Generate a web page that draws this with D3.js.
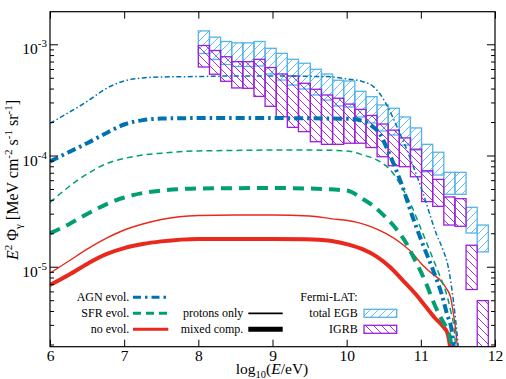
<!DOCTYPE html>
<html>
<head>
<meta charset="utf-8">
<script src="https://cdn.jsdelivr.net/npm/d3@7"></script>
<style>
  body { margin: 0; background: #fff; }
  svg text { font-family: "Liberation Serif", "Times New Roman", serif; fill: #000; }
</style>
</head>
<body>
<div id="chart"></div>
<script>
// gamma-ray cascade fluxes, E^2 Phi in MeV cm^-2 s^-1 sr^-1, x = log10(E/eV)

// AGN evolution
var agnP_logE = [6.0, 6.25, 6.5, 6.75, 7.0, 7.25, 7.5, 8.0, 8.5, 9.0, 9.5, 9.75, 10.0, 10.22, 10.36, 10.45, 10.54, 10.63, 10.72, 10.79, 10.9, 11.03, 11.21, 11.3, 11.37, 11.42, 11.46, 11.5, 11.52];
var agnP_flux = [1.95e-4, 2.43e-4, 3.06e-4, 3.97e-4, 4.68e-4, 4.98e-4, 5.08e-4, 5.13e-4, 5.19e-4, 5.19e-4, 5.15e-4, 5.12e-4, 4.88e-4, 4.61e-4, 4.16e-4, 3.57e-4, 2.85e-4, 2.15e-4, 1.56e-4, 1.22e-4, 7.93e-5, 4.57e-5, 1.97e-5, 1.41e-5, 9.93e-6, 6.17e-6, 3.76e-6, 2.06e-6, 1.4e-6];
var agnM_logE = [6.0, 6.25, 6.5, 6.75, 7.0, 7.25, 7.5, 8.0, 9.0, 9.5, 10.0, 10.2, 10.36, 10.45, 10.54, 10.64, 10.74, 10.88, 11.03, 11.17, 11.28, 11.35, 11.42, 11.46];
var agnM_flux = [8.83e-5, 1.07e-4, 1.29e-4, 1.58e-4, 1.90e-4, 2.08e-4, 2.15e-4, 2.17e-4, 2.17e-4, 2.16e-4, 2.14e-4, 2.06e-4, 1.80e-4, 1.56e-4, 1.17e-4, 8.22e-5, 5.55e-5, 2.92e-5, 1.57e-5, 9.13e-6, 5.68e-6, 3.81e-6, 2.59e-6, 1.5e-6];

// SFR evolution
var sfrP_logE = [6.0, 6.25, 6.5, 6.75, 7.0, 7.25, 7.5, 8.0, 8.5, 9.0, 9.5, 10.0, 10.22, 10.45, 10.61, 10.74, 10.88, 10.99, 11.1, 11.19, 11.26, 11.33, 11.4, 11.45, 11.48];
var sfrP_flux = [3.78e-5, 5.21e-5, 6.82e-5, 8.39e-5, 9.40e-5, 1.01e-4, 1.05e-4, 1.10e-4, 1.11e-4, 1.12e-4, 1.12e-4, 1.10e-4, 1.01e-4, 8.79e-5, 7.14e-5, 5.24e-5, 3.46e-5, 2.29e-5, 1.51e-5, 1.07e-5, 8.13e-6, 6.17e-6, 4.08e-6, 2.70e-6, 1.5e-6];
var sfrM_logE = [6.0, 6.25, 6.5, 6.75, 7.0, 7.25, 7.5, 8.0, 9.0, 9.5, 10.0, 10.22, 10.36, 10.49, 10.67, 10.81, 10.9, 10.99, 11.08, 11.17, 11.26, 11.35, 11.4, 11.43];
var sfrM_flux = [2.0e-5, 2.40e-5, 2.98e-5, 3.62e-5, 4.19e-5, 4.60e-5, 4.84e-5, 5.05e-5, 5.10e-5, 5.05e-5, 4.84e-5, 4.06e-5, 3.52e-5, 2.94e-5, 2.18e-5, 1.60e-5, 1.22e-5, 9.33e-6, 6.84e-6, 4.82e-6, 3.57e-6, 2.75e-6, 2.19e-6, 1.5e-6];

// no evolution
var noP_logE = [6.0, 6.25, 6.5, 6.75, 7.0, 7.25, 7.5, 8.0, 8.5, 9.0, 9.5, 9.78, 10.13, 10.36, 10.54, 10.72, 10.88, 11.01, 11.15, 11.26, 11.34, 11.4, 11.44, 11.47, 11.49, 11.51];
var noP_flux = [8.77e-6, 1.12e-5, 1.44e-5, 1.79e-5, 2.14e-5, 2.42e-5, 2.66e-5, 2.89e-5, 2.92e-5, 2.92e-5, 2.86e-5, 2.71e-5, 2.52e-5, 2.25e-5, 1.97e-5, 1.65e-5, 1.34e-5, 1.06e-5, 8.69e-6, 7.59e-6, 6.44e-6, 5.35e-6, 3.76e-6, 2.69e-6, 1.98e-6, 1.5e-6];
var noM_logE = [6.0, 6.25, 6.5, 6.75, 7.0, 7.25, 7.5, 8.0, 9.0, 9.45, 9.78, 10.04, 10.22, 10.4, 10.58, 10.76, 10.92, 11.06, 11.19, 11.3, 11.36, 11.39, 11.41];
var noM_flux = [6.84e-6, 8.41e-6, 1.06e-5, 1.29e-5, 1.47e-5, 1.60e-5, 1.69e-5, 1.78e-5, 1.78e-5, 1.77e-5, 1.71e-5, 1.57e-5, 1.43e-5, 1.24e-5, 1.0e-5, 7.51e-6, 5.77e-6, 4.43e-6, 3.46e-6, 2.90e-6, 2.52e-6, 1.98e-6, 1.5e-6];

// Fermi-LAT energy bins (log10 E/eV edges)
var fermiEdges = [8.00, 8.15, 8.30, 8.45, 8.60, 8.75, 8.90, 9.05, 9.20, 9.35, 9.51, 9.66, 9.81, 9.96, 10.11, 10.26, 10.41, 10.56, 10.71, 10.86, 11.01, 11.16, 11.31, 11.46, 11.61, 11.76, 11.91];
// total EGB band (high / low)
var egbHigh = [1.32e-3, 1.16e-3, 1.06e-3, 1.03e-3, 1.03e-3, 1.06e-3, 9.20e-4, 8.29e-4, 7.33e-4, 6.75e-4, 5.96e-4, 5.41e-4, 4.75e-4, 4.68e-4, 3.78e-4, 3.38e-4, 2.85e-4, 2.66e-4, 2.22e-4, 1.77e-4, 1.26e-4, 1.07e-4, 7.06e-5, 7.06e-5, 3.42e-5, 2.37e-5];
var egbLow = [8.26e-4, 7.30e-4, 6.58e-4, 6.31e-4, 6.31e-4, 6.38e-4, 5.41e-4, 4.77e-4, 4.30e-4, 3.96e-4, 3.50e-4, 3.15e-4, 2.79e-4, 2.73e-4, 2.22e-4, 1.96e-4, 1.66e-4, 1.53e-4, 1.24e-4, 1.12e-4, 7.14e-5, 6.68e-5, 4.48e-5, 4.48e-5, 2.01e-5, 1.36e-5];
// IGRB band (high / low)
var igrbHigh = [9.75e-4, 8.79e-4, 7.73e-4, 6.98e-4, 6.98e-4, 7.33e-4, 6.18e-4, 5.41e-4, 5.19e-4, 4.46e-4, 3.94e-4, 3.50e-4, 3.27e-4, 2.90e-4, 2.60e-4, 2.29e-4, 1.92e-4, 1.69e-4, 1.44e-4, 1.14e-4, 7.30e-5, 6.10e-5, 4.24e-5, 4.09e-5, 1.56e-5, 4.96e-6];
var igrbLow = [6.25e-4, 5.38e-4, 4.65e-4, 4.05e-4, 4.02e-4, 3.40e-4, 2.77e-4, 2.23e-4, 1.79e-4, 1.64e-4, 1.33e-4, 1.26e-4, 1.26e-4, 1.29e-4, 1.29e-4, 1.18e-4, 9.75e-5, 8.09e-5, 7.93e-5, 6.44e-5, 3.85e-5, 3.49e-5, 2.37e-5, 2.31e-5, 6.24e-6, 1.0e-6];

var xTicks = [6, 7, 8, 9, 10, 11, 12];
var yMajor = [1e-5, 1e-4, 1e-3];
var yMajorExp = ["-5", "-4", "-3"];

var blue = "#0072b2", green = "#009e73", red = "#e8291c";
var egbColor = "#56b4e9", igrbColor = "#9a1fdc";

var width = 506, height = 379;
var pLeft = 50, pRight = 495, pTop = 11.7, pBottom = 346.7;

var svg = d3.select("#chart").append("svg")
  .attr("width", width)
  .attr("height", height)
  .attr("font-family", "Liberation Serif, serif");

var x = d3.scaleLinear().domain([6, 12]).range([pLeft, pRight]);
var y = d3.scaleLog().domain([Math.pow(10, -5.719), Math.pow(10, -2.707)]).range([pBottom, pTop]);

var defs = svg.append("defs");
defs.append("clipPath").attr("id", "plotClip")
  .append("rect")
  .attr("x", pLeft).attr("y", pTop)
  .attr("width", pRight - pLeft).attr("height", pBottom - pTop);

// hatch patterns
defs.append("pattern").attr("id", "hatchEGB")
  .attr("patternUnits", "userSpaceOnUse").attr("width", 8).attr("height", 8)
  .append("path")
  .attr("d", "M-2,2 L2,-2 M0,8 L8,0 M6,10 L10,6")
  .attr("stroke", egbColor).attr("stroke-width", 0.9);
defs.append("pattern").attr("id", "hatchIGRB")
  .attr("patternUnits", "userSpaceOnUse").attr("width", 8).attr("height", 8)
  .append("path")
  .attr("d", "M-2,6 L2,10 M0,0 L8,8 M6,-2 L10,2")
  .attr("stroke", igrbColor).attr("stroke-width", 0.9);

var plot = svg.append("g").attr("clip-path", "url(#plotClip)");

// Fermi boxes
function drawBoxes(high, low, fillId, color) {
  var bins = high.map(function (h, i) {
    return { x0: fermiEdges[i], x1: fermiEdges[i + 1], hi: h, lo: low[i] };
  });
  plot.append("g").selectAll("rect")
    .data(bins)
    .enter()
    .append("rect")
    .attr("x", function (d) { return x(d.x0); })
    .attr("width", function (d) { return x(d.x1) - x(d.x0); })
    .attr("y", function (d) { return y(d.hi); })
    .attr("height", function (d) { return y(d.lo) - y(d.hi); })
    .attr("fill", "url(#" + fillId + ")")
    .attr("stroke", color)
    .attr("stroke-width", 1.3);
}
drawBoxes(egbHigh, egbLow, "hatchEGB", egbColor);
drawBoxes(igrbHigh, igrbLow, "hatchIGRB", igrbColor);

// curves
var line = d3.line()
  .x(function (d) { return x(d[0]); })
  .y(function (d) { return y(d[1]); })
  .curve(d3.curveMonotoneX);

var curves = [
  { e: noM_logE, f: noM_flux, color: red, w: 4, dash: null },
  { e: noP_logE, f: noP_flux, color: red, w: 1.4, dash: null },
  { e: sfrM_logE, f: sfrM_flux, color: green, w: 4, dash: "11,7" },
  { e: sfrP_logE, f: sfrP_flux, color: green, w: 1.5, dash: "6,4" },
  { e: agnM_logE, f: agnM_flux, color: blue, w: 4, dash: "9,4,2.5,4" },
  { e: agnP_logE, f: agnP_flux, color: blue, w: 1.5, dash: "5,2.5,1.5,2.5" }
];

curves.forEach(function (c) {
  var pts = c.e.map(function (v, i) { return [v, c.f[i]]; });
  plot.append("path")
    .datum(pts)
    .attr("fill", "none")
    .attr("stroke", c.color)
    .attr("stroke-width", c.w)
    .attr("stroke-dasharray", c.dash)
    .attr("d", line);
});

// axes (ticks point inward)
var yMinor = [];
for (var p = -6; p <= -3; p++) {
  for (var m = 2; m <= 9; m++) {
    var v = m * Math.pow(10, p);
    if (v > y.domain()[0] && v < y.domain()[1]) yMinor.push(v);
  }
}

function styleAxis(g) {
  g.select(".domain").remove();
  g.selectAll(".tick line").attr("stroke", "#000").attr("stroke-width", 1);
}

svg.append("g").attr("transform", "translate(" + pLeft + ",0)")
  .call(d3.axisLeft(y).tickValues(yMajor).tickSize(-8).tickFormat(""))
  .call(styleAxis);
svg.append("g").attr("transform", "translate(" + pLeft + ",0)")
  .call(d3.axisLeft(y).tickValues(yMinor).tickSize(-4).tickFormat(""))
  .call(styleAxis);
svg.append("g").attr("transform", "translate(" + pRight + ",0)")
  .call(d3.axisRight(y).tickValues(yMajor).tickSize(-8).tickFormat(""))
  .call(styleAxis);
svg.append("g").attr("transform", "translate(" + pRight + ",0)")
  .call(d3.axisRight(y).tickValues(yMinor).tickSize(-4).tickFormat(""))
  .call(styleAxis);

var xAxis = svg.append("g").attr("transform", "translate(0," + pBottom + ")")
  .call(d3.axisBottom(x).tickValues(xTicks).tickSize(-7).tickPadding(3).tickFormat(d3.format("d")))
  .call(styleAxis);
xAxis.selectAll(".tick text")
  .attr("font-family", "Liberation Serif, serif")
  .attr("font-size", 15.5)
  .attr("fill", "#000");
svg.append("g").attr("transform", "translate(0," + pTop + ")")
  .call(d3.axisTop(x).tickValues(xTicks).tickSize(-7).tickFormat(""))
  .call(styleAxis);

// frame
svg.append("rect")
  .attr("x", pLeft).attr("y", pTop)
  .attr("width", pRight - pLeft).attr("height", pBottom - pTop)
  .attr("fill", "none").attr("stroke", "#000").attr("stroke-width", 1.2);

// y tick labels 10^n
yMajor.forEach(function (v, i) {
  var t = svg.append("text")
    .attr("x", 47)
    .attr("y", y(v) + 10)
    .attr("text-anchor", "end");
  t.append("tspan").attr("font-size", 15.5).text("10");
  t.append("tspan").attr("font-size", 11).attr("dy", -7).text(yMajorExp[i]);
});

// axis titles
var xl = svg.append("text")
  .attr("x", 272).attr("y", 374)
  .attr("text-anchor", "middle")
  .attr("font-size", 15.5);
xl.append("tspan").text("log");
xl.append("tspan").attr("font-size", 10.5).attr("dy", 4).text("10");
xl.append("tspan").attr("dy", -4).text("(");
xl.append("tspan").attr("font-style", "italic").text("E");
xl.append("tspan").text("/eV)");

var yl = svg.append("text")
  .attr("transform", "translate(18,180) rotate(-90)")
  .attr("text-anchor", "middle")
  .attr("font-size", 16);
yl.append("tspan").attr("font-style", "italic").text("E");
yl.append("tspan").attr("font-size", 11).attr("dy", -6).text("2");
yl.append("tspan").attr("dy", 6).text(" \u03A6");
yl.append("tspan").attr("font-size", 11).attr("dy", 4).text("\u03B3");
yl.append("tspan").attr("dy", -4).text(" [MeV cm");
yl.append("tspan").attr("font-size", 11).attr("dy", -6).text("-2");
yl.append("tspan").attr("dy", 6).text(" s");
yl.append("tspan").attr("font-size", 11).attr("dy", -6).text("-1");
yl.append("tspan").attr("dy", 6).text(" sr");
yl.append("tspan").attr("font-size", 11).attr("dy", -6).text("-1");
yl.append("tspan").attr("dy", 6).text("]");

// legend
var legRows = [297.3, 313.3, 329.3];
var legend = svg.append("g").attr("font-size", 12);

var legLines = [
  { label: "AGN evol.", row: 0, color: blue, w: 3, dash: "8,4,2.5,4" },
  { label: "SFR evol.", row: 1, color: green, w: 3, dash: "8,5" },
  { label: "no evol.", row: 2, color: red, w: 3, dash: null },
  { label: "protons only", row: 1, color: "#000", w: 1.8, dash: null, col: 1 },
  { label: "mixed comp.", row: 2, color: "#000", w: 5, dash: null, col: 1 }
];
var colTextEnd = [129.3, 243.3, 357.7];
var colLineX = [[133, 168.3], [248.3, 282.7]];

legLines.forEach(function (d) {
  var col = d.col || 0;
  legend.append("text")
    .attr("x", colTextEnd[col])
    .attr("y", legRows[d.row] + 4)
    .attr("text-anchor", "end")
    .text(d.label);
  legend.append("line")
    .attr("x1", colLineX[col][0]).attr("x2", colLineX[col][1])
    .attr("y1", legRows[d.row]).attr("y2", legRows[d.row])
    .attr("stroke", d.color)
    .attr("stroke-width", d.w)
    .attr("stroke-dasharray", d.dash);
});

legend.append("text")
  .attr("x", colTextEnd[2]).attr("y", legRows[0] + 4)
  .attr("text-anchor", "end").text("Fermi-LAT:");
[["total EGB", "hatchEGB", egbColor], ["IGRB", "hatchIGRB", igrbColor]].forEach(function (d, i) {
  legend.append("text")
    .attr("x", colTextEnd[2]).attr("y", legRows[i + 1] + 4)
    .attr("text-anchor", "end").text(d[0]);
  legend.append("rect")
    .attr("x", 364).attr("y", legRows[i + 1] - 4)
    .attr("width", 32.7).attr("height", 8)
    .attr("fill", "url(#" + d[1] + ")")
    .attr("stroke", d[2]).attr("stroke-width", 1.3);
});
</script>
</body>
</html>
